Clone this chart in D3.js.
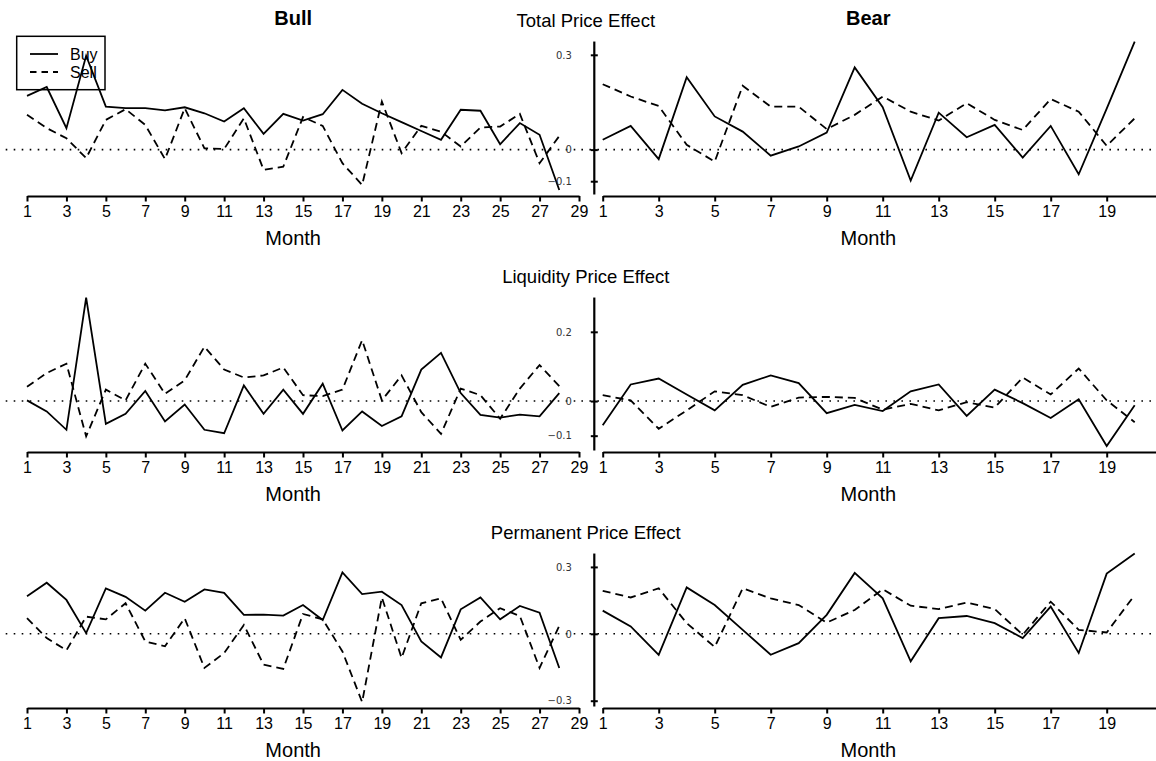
<!DOCTYPE html>
<html>
<head>
<meta charset="utf-8">
<title>Price effects, Bull vs Bear</title>
<script src="https://cdnjs.cloudflare.com/ajax/libs/d3/7.8.5/d3.min.js"></script>
<style>
  body { margin: 0; background: #fff; }
  svg { display: block; font-family: "Liberation Sans", Arial, Helvetica, sans-serif; }
</style>
</head>
<body>
<div id="chart"></div>
<script>
// data, one value per month
var bullTotalBuy  = [0.170,0.198,0.068,0.297,0.136,0.131,0.131,0.124,0.134,0.115,0.089,0.131,0.050,0.113,0.092,0.112,0.189,0.145,0.115,0.087,0.059,0.031,0.126,0.123,0.017,0.084,0.047,-0.128];
var bullTotalSell = [0.110,0.068,0.036,-0.027,0.094,0.128,0.078,-0.030,0.131,0.004,0.002,0.099,-0.064,-0.054,0.103,0.075,-0.043,-0.112,0.152,-0.011,0.075,0.057,0.010,0.070,0.073,0.113,-0.043,0.043];
var bearTotalBuy  = [0.031,0.075,-0.030,0.229,0.105,0.057,-0.019,0.010,0.054,0.260,0.134,-0.098,0.117,0.039,0.078,-0.025,0.075,-0.078,0.130,0.342];
var bearTotalSell = [0.207,0.168,0.138,0.015,-0.038,0.202,0.136,0.136,0.065,0.110,0.168,0.120,0.092,0.147,0.094,0.062,0.160,0.120,0.012,0.099];

var bullLiqBuy  = [0.002,-0.030,-0.083,0.299,-0.066,-0.037,0.029,-0.059,-0.010,-0.083,-0.093,0.045,-0.037,0.033,-0.037,0.050,-0.085,-0.030,-0.072,-0.044,0.091,0.139,0.023,-0.040,-0.048,-0.039,-0.044,0.023];
var bullLiqSell = [0.041,0.081,0.108,-0.102,0.033,0.002,0.108,0.021,0.060,0.157,0.091,0.068,0.074,0.097,0.017,0.014,0.033,0.176,0.002,0.074,-0.032,-0.095,0.036,0.017,-0.051,0.036,0.104,0.043];
var bearLiqBuy  = [-0.070,0.048,0.065,0.019,-0.027,0.047,0.074,0.052,-0.035,-0.011,-0.029,0.028,0.048,-0.043,0.033,-0.006,-0.049,0.005,-0.130,-0.012];
var bearLiqSell = [0.017,0.002,-0.080,-0.027,0.028,0.017,-0.017,0.010,0.012,0.009,-0.025,-0.008,-0.027,-0.003,-0.019,0.068,0.019,0.094,0.002,-0.061];

var bullPermBuy  = [0.169,0.229,0.152,0.003,0.204,0.166,0.104,0.184,0.144,0.199,0.184,0.085,0.086,0.082,0.129,0.062,0.275,0.178,0.189,0.129,-0.034,-0.106,0.110,0.163,0.065,0.125,0.095,-0.153];
var bullPermSell = [0.070,-0.019,-0.074,0.077,0.065,0.137,-0.034,-0.056,0.070,-0.153,-0.086,0.040,-0.138,-0.157,0.089,0.065,-0.079,-0.306,0.163,-0.108,0.137,0.159,-0.027,0.055,0.115,0.080,-0.153,0.036];
var bearPermBuy  = [0.104,0.033,-0.094,0.208,0.129,0.018,-0.094,-0.042,0.085,0.273,0.159,-0.123,0.070,0.080,0.048,-0.019,0.122,-0.086,0.270,0.360];
var bearPermSell = [0.193,0.163,0.204,0.048,-0.059,0.204,0.159,0.129,0.050,0.107,0.200,0.126,0.111,0.140,0.111,-0.004,0.144,0.018,0.006,0.174];

var rowTitles = ["Total Price Effect", "Liquidity Price Effect", "Permanent Price Effect"];
var colTitles = ["Bull", "Bear"];
var bullTicks = [1,3,5,7,9,11,13,15,17,19,21,23,25,27,29];
var bearTicks = [1,3,5,7,9,11,13,15,17,19];
var yTicks = [[0.3, 0, -0.1], [0.2, 0, -0.1], [0.3, 0, -0.3]];
var legendLabels = ["Buy", "Sell"];

var rows = [
  [bullTotalBuy, bullTotalSell, bearTotalBuy, bearTotalSell],
  [bullLiqBuy, bullLiqSell, bearLiqBuy, bearLiqSell],
  [bullPermBuy, bullPermSell, bearPermBuy, bearPermSell]
];

var W = 1156, H = 761;
var svg = d3.select("#chart").append("svg").attr("width", W).attr("height", H);
svg.append("rect").attr("width", W).attr("height", H).attr("fill", "#fff");

// x scales, shared by all rows
var xBull = d3.scaleLinear().domain([1, 29]).range([27, 579]);
var xBear = d3.scaleLinear().domain([1, 21]).range([602.7, 1162.7]);
var bullRegion = [5.7, 580.6];
var bearRegion = [581.4, 1156];
var yAxisX = 594.3;

var dashSell = "8,5";

rows.forEach(function(series, r) {
  var bottom = 196 + 256 * r;
  var all = d3.merge(series);
  var ext = d3.extent(all);
  var pad = (ext[1] - ext[0]) * 0.04;
  var y = d3.scaleLinear().domain([ext[0] - pad, ext[1] + pad]).range([bottom, bottom - 160.4]);

  var g = svg.append("g");

  // zero reference lines
  [bullRegion, bearRegion].forEach(function(reg) {
    g.append("line")
      .attr("x1", reg[0]).attr("x2", reg[1])
      .attr("y1", y(0)).attr("y2", y(0))
      .attr("stroke", "#000").attr("stroke-width", 1.6)
      .attr("stroke-dasharray", "1.6,6.4");
  });

  // buy solid, sell dashed
  var panels = [[xBull, series[0], series[1]], [xBear, series[2], series[3]]];
  panels.forEach(function(p) {
    var x = p[0];
    var line = d3.line().x(function(d, i) { return x(i + 1); }).y(function(d) { return y(d); });
    g.append("path").datum(p[1]).attr("d", line)
      .attr("fill", "none").attr("stroke", "#000").attr("stroke-width", 1.8);
    g.append("path").datum(p[2]).attr("d", line)
      .attr("fill", "none").attr("stroke", "#000").attr("stroke-width", 1.8)
      .attr("stroke-dasharray", dashSell);
  });

  // x axes
  [[xBull, bullTicks, (bullRegion[0] + bullRegion[1]) / 2], [xBear, bearTicks, 868.3]].forEach(function(a) {
    var ax = g.append("g")
      .attr("transform", "translate(0," + bottom + ")")
      .call(d3.axisBottom(a[0]).tickValues(a[1]).tickSize(5.5).tickSizeOuter(0).tickPadding(4));
    ax.select(".domain").attr("stroke-width", 2.2);
    ax.selectAll(".tick line").attr("stroke-width", 2);
    ax.selectAll("text").attr("font-family", null).attr("font-size", 16).attr("fill", "#000");
    g.append("text").attr("x", a[2]).attr("y", bottom + 49)
      .attr("text-anchor", "middle").attr("font-size", 20).text("Month");
  });

  // y axis, between the panels
  var yax = g.append("g")
    .attr("transform", "translate(" + yAxisX + ",0)")
    .call(d3.axisLeft(y).tickValues(yTicks[r]).tickSize(3.5).tickPadding(19)
      .tickFormat(function(d) { return d === 0 ? "0" : d3.format(".1f")(d).replace("-", "\u2212"); }));
  yax.select(".domain").remove();
  yax.selectAll(".tick line").attr("x1", -3.5).attr("x2", 3.5).attr("stroke-width", 2);
  yax.selectAll("text").attr("font-family", "DejaVu Sans, sans-serif").attr("font-size", 10).attr("fill", "#333");
  g.append("line")
    .attr("x1", yAxisX).attr("x2", yAxisX)
    .attr("y1", y(ext[1])).attr("y2", bottom - 1.5)
    .attr("stroke", "#000").attr("stroke-width", 2.2);

  // row title
  g.append("text").attr("x", 585.8).attr("y", 27 + 256 * r)
    .attr("text-anchor", "middle").attr("font-size", 18.5).text(rowTitles[r]);
});

// column titles
svg.append("text").attr("x", (bullRegion[0] + bullRegion[1]) / 2).attr("y", 25)
  .attr("text-anchor", "middle").attr("font-size", 20).attr("font-weight", "bold").text(colTitles[0]);
svg.append("text").attr("x", 868.3).attr("y", 25)
  .attr("text-anchor", "middle").attr("font-size", 20).attr("font-weight", "bold").text(colTitles[1]);

// legend
var lg = svg.append("g");
lg.append("rect").attr("x", 16.7).attr("y", 36.3).attr("width", 88.3).attr("height", 53.4)
  .attr("fill", "none").attr("stroke", "#000").attr("stroke-width", 1.5);
legendLabels.forEach(function(lab, i) {
  var ly = 54 + i * 18;
  lg.append("line").attr("x1", 30).attr("x2", 58).attr("y1", ly).attr("y2", ly)
    .attr("stroke", "#000").attr("stroke-width", 1.8)
    .attr("stroke-dasharray", i === 0 ? null : "6.5,5");
  lg.append("text").attr("x", 70).attr("y", ly + 6).attr("font-size", 16).attr("fill", "#000").text(lab);
});
</script>
</body>
</html>
